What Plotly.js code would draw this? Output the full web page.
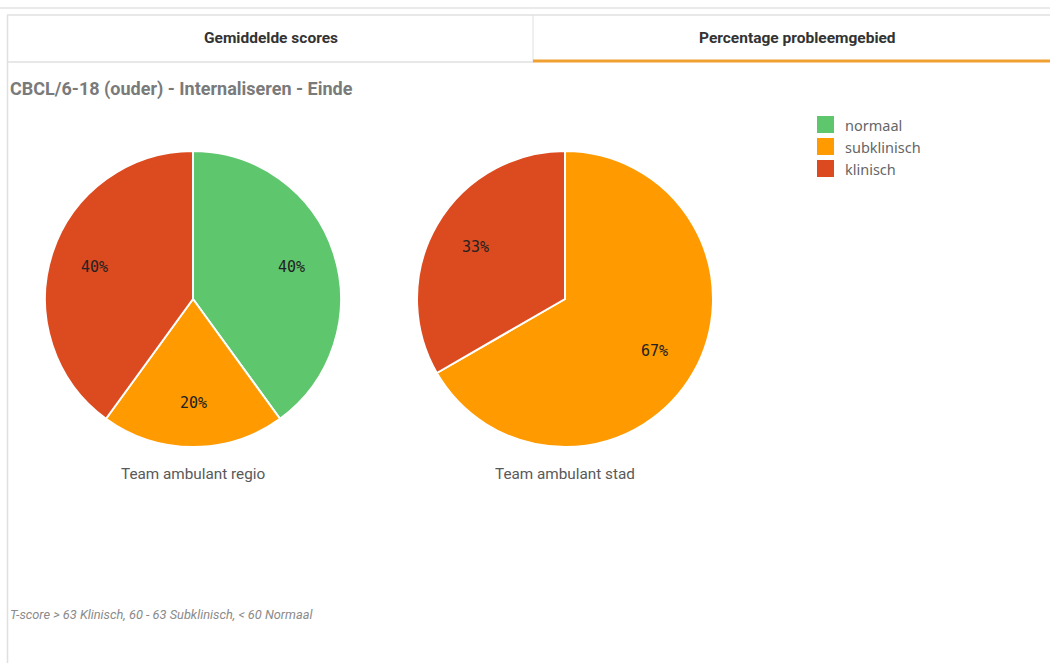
<!DOCTYPE html>
<html><head><meta charset="utf-8">
<script src="https://cdn.plot.ly/plotly-3.0.1.min.js"></script>
<style>html,body{margin:0;padding:0;background:#fff;}#chart{width:1050px;height:663px;}</style>
</head><body><div id="chart"></div>
<script>
const categories = ["normaal", "subklinisch", "klinisch"];
const colors = ["#5ec66d", "#ff9a00", "#dc4a1f"];
const teamRegioValues = [2, 1, 2];
const teamStadValues = [0, 2, 1];
const teamNames = ["Team ambulant regio", "Team ambulant stad"];
const tabLabels = ["Gemiddelde scores", "Percentage probleemgebied"];
const chartTitle = "CBCL/6-18 (ouder) - Internaliseren - Einde";
const footnote = "T-score > 63 Klinisch, 60 - 63 Subklinisch, < 60 Normaal";

const W = 1050, H = 663;
const px = x => x / W, py = y => 1 - y / H;

const pies = [
  { values: teamRegioValues, cx: 193, cy: 299, r: 148, name: teamNames[0] },
  { values: teamStadValues, cx: 565, cy: 299, r: 148, name: teamNames[1] }
];

const data = pies.map(p => ({
  type: "pie", labels: categories, values: p.values, sort: false,
  direction: "clockwise", rotation: 0, showlegend: false,
  marker: { colors: colors, line: { color: "#ffffff", width: 2 } },
  textinfo: "none",
  hoverinfo: "label+percent",
  domain: { x: [px(p.cx - p.r), px(p.cx + p.r)], y: [py(p.cy + p.r), py(p.cy - p.r)] }
}));

// percent labels placed at 70% of the radius at each slice's mid-angle (computed from data)
const labelAnn = [];
pies.forEach(p => {
  const total = p.values.reduce((a, b) => a + b, 0);
  let cum = 0;
  p.values.forEach(v => {
    if (v > 0) {
      const mid = (cum + v / 2) / total * 2 * Math.PI;
      const x = p.cx + 0.70 * p.r * Math.sin(mid);
      const y = p.cy - 0.70 * p.r * Math.cos(mid);
      labelAnn.push({
        text: Math.round(v / total * 100) + "%", x: px(x), y: py(y), xref: "paper", yref: "paper",
        showarrow: false, xanchor: "center", yanchor: "middle",
        font: { family: "DejaVu Sans Mono", size: 15, color: "#222" }
      });
    }
    cum += v;
  });
});

// custom legend
const legendShapes = [], legendAnn = [];
categories.forEach((c, i) => {
  const yc = 124.5 + i * 22;
  legendShapes.push({ type: "rect", xref: "paper", yref: "paper", x0: px(817), x1: px(834), y0: py(yc - 8.5), y1: py(yc + 8.5), fillcolor: colors[i], line: { width: 0 } });
  legendAnn.push({ text: c, x: px(843), y: py(yc), xref: "paper", yref: "paper", showarrow: false, xanchor: "left", yanchor: "middle", font: { family: "Noto Sans", size: 14.5, color: "#666" } });
});

const layout = {
  width: W, height: H,
  margin: { l: 0, r: 0, t: 0, b: 0 },
  paper_bgcolor: "#fff",
  showlegend: false,
  shapes: [
    { type: "line", xref: "paper", yref: "paper", x0: 0, x1: px(1050), y0: py(8), y1: py(8), line: { color: "#e3e3e3", width: 1.5 } },
    { type: "line", xref: "paper", yref: "paper", x0: px(7), x1: px(1050), y0: py(15), y1: py(15), line: { color: "#e0e0e0", width: 1.5 } },
    { type: "line", xref: "paper", yref: "paper", x0: px(7.5), x1: px(7.5), y0: py(15), y1: 0, line: { color: "#e0e0e0", width: 1.5 } },
    { type: "line", xref: "paper", yref: "paper", x0: px(533), x1: px(533), y0: py(15), y1: py(62), line: { color: "#e0e0e0", width: 1 } },
    { type: "line", xref: "paper", yref: "paper", x0: px(7), x1: px(533), y0: py(62), y1: py(62), line: { color: "#e0e0e0", width: 1.5 } },
    { type: "line", xref: "paper", yref: "paper", x0: px(533), x1: px(1050), y0: py(61), y1: py(61), line: { color: "#f0a030", width: 3 } }
  ].concat(legendShapes),
  annotations: [
    { text: "<b>" + tabLabels[0] + "</b>", x: px(271), y: py(38), xref: "paper", yref: "paper", showarrow: false, xanchor: "center", yanchor: "middle", font: { family: "Roboto", size: 15.5, color: "#333" } },
    { text: "<b>" + tabLabels[1] + "</b>", x: px(797), y: py(38), xref: "paper", yref: "paper", showarrow: false, xanchor: "center", yanchor: "middle", font: { family: "Roboto", size: 15.5, color: "#333" } },
    { text: "<b>" + chartTitle + "</b>", x: px(8), y: py(89), xref: "paper", yref: "paper", showarrow: false, xanchor: "left", yanchor: "middle", font: { family: "Roboto", size: 18, color: "#7a7a7a" } },
    { text: pies[0].name, x: px(193), y: py(474), xref: "paper", yref: "paper", showarrow: false, xanchor: "center", yanchor: "middle", font: { family: "Roboto", size: 15.3, color: "#595959" } },
    { text: pies[1].name, x: px(565), y: py(474), xref: "paper", yref: "paper", showarrow: false, xanchor: "center", yanchor: "middle", font: { family: "Roboto", size: 15.3, color: "#595959" } },
    { text: "<i>" + footnote + "</i>", x: px(8), y: py(614), xref: "paper", yref: "paper", showarrow: false, xanchor: "left", yanchor: "middle", font: { family: "Roboto", size: 12.8, color: "#8a8a8a" } }
  ].concat(labelAnn, legendAnn)
};

Plotly.newPlot("chart", data, layout, { displayModeBar: false, staticPlot: true });
</script></body></html>
